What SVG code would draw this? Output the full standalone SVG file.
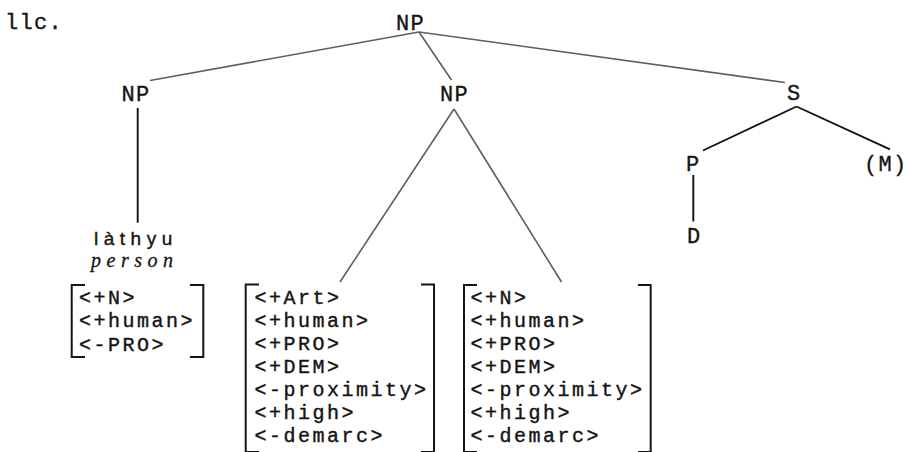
<svg xmlns="http://www.w3.org/2000/svg" width="916" height="452" viewBox="0 0 916 452">
  <style>
    .mono { font-family: "Liberation Mono", "DejaVu Sans Mono", monospace; font-size: 22px; letter-spacing: 1.3px; fill: #151515; stroke: #151515; stroke-width: 0.35px; }
    .feat { font-family: "Liberation Mono", "DejaVu Sans Mono", monospace; font-size: 20px; letter-spacing: 2.5px; fill: #151515; stroke: #151515; stroke-width: 0.4px; }
    .word { font-family: "Liberation Sans", Arial, sans-serif; font-size: 19px; letter-spacing: 5.5px; fill: #151515; stroke: #151515; stroke-width: 0.4px; }
    .gloss { font-family: "Liberation Serif", "Times New Roman", serif; font-style: italic; font-size: 20px; letter-spacing: 5.5px; fill: #151515; stroke: #151515; stroke-width: 0.3px; }
    .edge-top { stroke: #5e5e5e; stroke-width: 1.6; fill: none; }
    .edge { stroke: #111; stroke-width: 1.9; fill: none; }
    .bracket { stroke: #151515; stroke-width: 2; fill: none; }
  </style>
  <rect width="916" height="452" fill="#ffffff"/>

  <!-- example number -->
  <text class="mono" x="5" y="29">llc.</text>

  <!-- connectors -->
  <g id="connectors">
    <line class="edge-top" x1="419" y1="32" x2="150" y2="80.5"/>
    <line class="edge-top" x1="419" y1="32" x2="451.5" y2="80"/>
    <line class="edge-top" x1="419" y1="32" x2="785" y2="82.5"/>
    <line class="edge" x1="137.7" y1="108" x2="137.7" y2="222.7"/>
    <line class="edge-top" x1="454" y1="109" x2="340" y2="282"/>
    <line class="edge-top" x1="454" y1="109" x2="561.5" y2="282"/>
    <line class="edge" x1="796.5" y1="106.5" x2="703" y2="150.5"/>
    <line class="edge" x1="796.5" y1="106.5" x2="890" y2="149.3"/>
    <line class="edge" x1="693.3" y1="175" x2="693.3" y2="221.5"/>
  </g>

  <g id="np-root"><text class="mono" x="396" y="30">NP</text></g>
  <g id="np-left"><text class="mono" x="121.5" y="101">NP</text></g>
  <g id="np-mid"><text class="mono" x="440" y="101">NP</text></g>
  <g id="s"><text class="mono" x="787" y="100">S</text></g>
  <g id="p"><text class="mono" x="686" y="171">P</text></g>
  <g id="m"><text class="mono" x="864" y="171">(M)</text></g>
  <g id="d"><text class="mono" x="687" y="243">D</text></g>

  <!-- lexical item with gloss and feature matrix -->
  <g id="lathyu">
    <text class="word" x="94" y="245">làthyu</text>
    <text class="gloss" x="91" y="267">person</text>
    <path class="bracket" d="M85 285 H71.7 V357 H85"/>
    <path class="bracket" d="M190 285 H203.3 V357 H190"/>
    <text class="feat" x="79" y="303.5">&lt;+N&gt;</text>
    <text class="feat" x="79" y="327">&lt;+human&gt;</text>
    <text class="feat" x="79" y="350.5">&lt;-PRO&gt;</text>
  </g>

  <g id="features-art">
    <path class="bracket" d="M259 284.5 H245.7 V452 H259"/>
    <path class="bracket" d="M421 284.5 H434 V452 H421"/>
    <text class="feat" x="254.5" y="303.5">&lt;+Art&gt;</text>
    <text class="feat" x="254.5" y="326.5">&lt;+human&gt;</text>
    <text class="feat" x="254.5" y="349.5">&lt;+PRO&gt;</text>
    <text class="feat" x="254.5" y="372.5">&lt;+DEM&gt;</text>
    <text class="feat" x="254.5" y="395.5">&lt;-proximity&gt;</text>
    <text class="feat" x="254.5" y="418.5">&lt;+high&gt;</text>
    <text class="feat" x="254.5" y="441.5">&lt;-demarc&gt;</text>
  </g>

  <g id="features-n">
    <path class="bracket" d="M477 285 H464 V452 H477"/>
    <path class="bracket" d="M638 285 H650.7 V452 H638"/>
    <text class="feat" x="470.5" y="303.5">&lt;+N&gt;</text>
    <text class="feat" x="470.5" y="326.5">&lt;+human&gt;</text>
    <text class="feat" x="470.5" y="349.5">&lt;+PRO&gt;</text>
    <text class="feat" x="470.5" y="372.5">&lt;+DEM&gt;</text>
    <text class="feat" x="470.5" y="395.5">&lt;-proximity&gt;</text>
    <text class="feat" x="470.5" y="418.5">&lt;+high&gt;</text>
    <text class="feat" x="470.5" y="441.5">&lt;-demarc&gt;</text>
  </g>
</svg>
